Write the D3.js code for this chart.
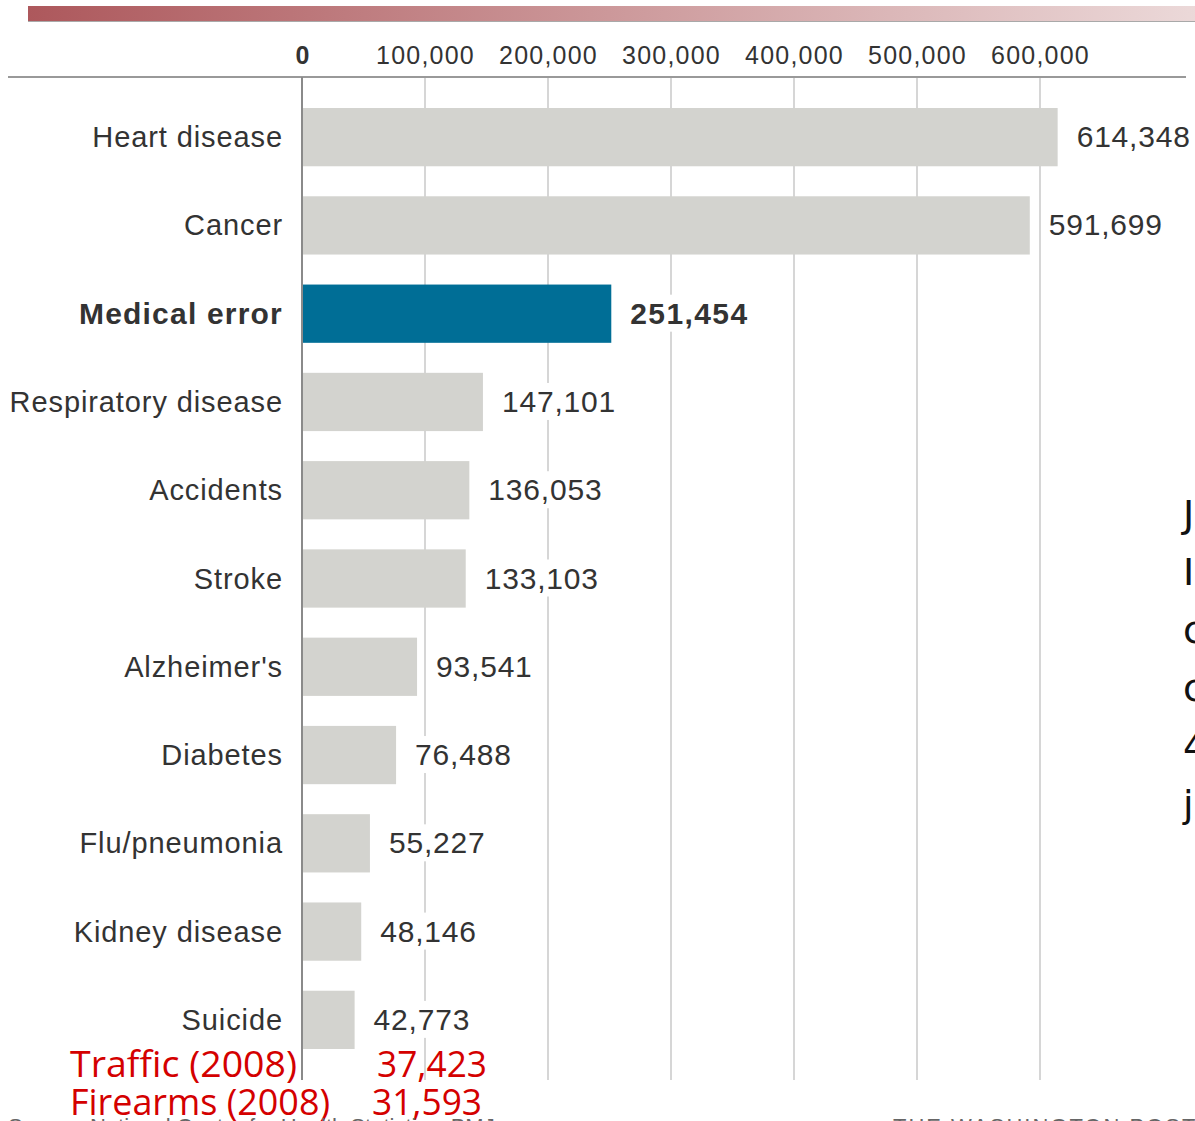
<!DOCTYPE html>
<html>
<head>
<meta charset="utf-8">
<script src="https://cdn.jsdelivr.net/npm/d3@7"></script>
<style>
  body { margin: 0; background: #fff; overflow: hidden; }
  svg { display: block; }
</style>
</head>
<body>
<div id="chart"></div>
<script>
// causes of death, US
var causes = ["Heart disease", "Cancer", "Medical error", "Respiratory disease", "Accidents",
              "Stroke", "Alzheimer's", "Diabetes", "Flu/pneumonia", "Kidney disease", "Suicide"];
var deaths = [614348, 591699, 251454, 147101, 136053, 133103, 93541, 76488, 55227, 48146, 42773];
var highlight = "Medical error";

// extra red rows added below the chart
var extraLabels = ["Traffic (2008)", "Firearms (2008)"];
var extraValues = [37423, 31593];

var tickValues = [0, 100000, 200000, 300000, 400000, 500000, 600000];

var width = 1195, height = 1121;
var font = "'Liberation Sans', Arial, sans-serif";

var svg = d3.select("#chart").append("svg")
    .attr("width", width)
    .attr("height", height);

// gradient strip at the very top
var defs = svg.append("defs");
var grad = defs.append("linearGradient").attr("id", "topgrad");
grad.append("stop").attr("offset", "0%").attr("stop-color", "#ad585c");
grad.append("stop").attr("offset", "100%").attr("stop-color", "#ecdada");
svg.append("rect").attr("x", 28).attr("y", 6).attr("width", 1180).attr("height", 15)
    .attr("fill", "url(#topgrad)");
svg.append("line").attr("x1", 28).attr("x2", 1195).attr("y1", 21.5).attr("y2", 21.5)
    .attr("stroke", "#a9a9a9").attr("stroke-width", 1);

var x = d3.scaleLinear().domain([0, 600000]).range([302, 1040]);
var y = d3.scaleBand().domain(causes).range([93, 1064]).paddingInner(0.34).paddingOuter(0.17);

var gridBottom = 1080;

// gridlines
svg.append("g").selectAll("line")
    .data(tickValues.slice(1))
    .enter().append("line")
    .attr("x1", function(d){ return x(d); })
    .attr("x2", function(d){ return x(d); })
    .attr("y1", 77).attr("y2", gridBottom)
    .attr("stroke", "#d6d6d6").attr("stroke-width", 2);

// top axis labels
var axis = svg.append("g")
    .attr("transform", "translate(0,77)")
    .call(d3.axisTop(x).tickValues(tickValues).tickSize(0).tickPadding(13)
        .tickFormat(d3.format(",")));
axis.select(".domain").remove();
axis.selectAll("text")
    .attr("font-family", font)
    .attr("font-size", 25)
    .attr("letter-spacing", function(d){ return d === 0 ? 0 : 1.2; })
    .attr("fill", "#333")
    .attr("font-weight", function(d){ return d === 0 ? "bold" : "normal"; });

svg.append("line").attr("x1", 8).attr("x2", 1186).attr("y1", 77).attr("y2", 77)
    .attr("stroke", "#999").attr("stroke-width", 2);

// bars
svg.append("g").selectAll("rect")
    .data(causes)
    .enter().append("rect")
    .attr("x", x(0))
    .attr("y", function(d){ return y(d); })
    .attr("width", function(d, i){ return x(deaths[i]) - x(0); })
    .attr("height", y.bandwidth())
    .attr("fill", function(d){ return d === highlight ? "#006e96" : "#d3d3cf"; });

// zero line
svg.append("line").attr("x1", 302).attr("x2", 302).attr("y1", 77).attr("y2", gridBottom)
    .attr("stroke", "#8a8a8a").attr("stroke-width", 2);

// category labels
svg.append("g").selectAll("text")
    .data(causes)
    .enter().append("text")
    .attr("x", 283)
    .attr("y", function(d){ return y(d) + y.bandwidth() / 2 + 10; })
    .attr("text-anchor", "end")
    .attr("font-family", font)
    .attr("font-size", function(d){ return d === highlight ? 30 : 29; })
    .attr("letter-spacing", function(d){ return d === highlight ? 1.2 : 0.9; })
    .attr("font-weight", function(d){ return d === highlight ? "bold" : "normal"; })
    .attr("fill", "#333")
    .text(function(d){ return d; });

// value labels with white boxes that break the gridlines
var vals = svg.append("g").selectAll("g")
    .data(causes)
    .enter().append("g");
vals.append("text")
    .attr("x", function(d, i){ return x(deaths[i]) + 19; })
    .attr("y", function(d){ return y(d) + y.bandwidth() / 2 + 10; })
    .attr("font-family", font)
    .attr("font-size", 30)
    .attr("letter-spacing", function(d){ return d === highlight ? 1.4 : 0.8; })
    .attr("font-weight", function(d){ return d === highlight ? "bold" : "normal"; })
    .attr("fill", "#333")
    .text(function(d, i){ return d3.format(",")(deaths[i]); });
vals.each(function(){
    var t = d3.select(this).select("text");
    var b = t.node().getBBox();
    d3.select(this).insert("rect", "text")
        .attr("x", b.x - 4).attr("y", b.y - 2)
        .attr("width", b.width + 8).attr("height", b.height + 4)
        .attr("fill", "#fff");
});

// red added rows
var redFont = "'Open Sans', 'Noto Sans', sans-serif";
svg.append("g").selectAll("text.lab")
    .data(extraLabels)
    .enter().append("text")
    .attr("x", 70)
    .attr("y", function(d, i){ return 1077 + i * 38; })
    .attr("font-family", redFont)
    .attr("font-size", 37)
    .attr("textLength", function(d, i){ return i === 0 ? 227 : 260; })
    .attr("lengthAdjust", "spacingAndGlyphs")
    .attr("fill", "#d40000")
    .text(function(d){ return d; });
svg.append("g").selectAll("text.val")
    .data(extraValues)
    .enter().append("text")
    .attr("x", function(d, i){ return i === 0 ? 487 : 482; })
    .attr("y", function(d, i){ return 1077 + i * 38; })
    .attr("text-anchor", "end")
    .attr("font-family", redFont)
    .attr("font-size", 37)
    .attr("textLength", 110)
    .attr("lengthAdjust", "spacingAndGlyphs")
    .attr("fill", "#d40000")
    .text(function(d){ return d3.format(",")(d); });

// source line, mostly cut off at the bottom
svg.append("text").attr("x", 8).attr("y", 1134)
    .attr("font-family", font).attr("font-size", 22)
    .attr("fill", "#666")
    .text("Source: National Center for Health Statistics, BMJ");
svg.append("text").attr("x", 893).attr("y", 1134)
    .attr("font-family", font).attr("font-size", 22)
    .attr("fill", "#666").attr("letter-spacing", 2)
    .text("THE WASHINGTON POST");

// slide text clipped at the right edge
var sideText = ["J", "I", "c", "c", "4", "j"];
svg.append("g").selectAll("text")
    .data(sideText)
    .enter().append("text")
    .attr("x", 1183)
    .attr("y", function(d, i){ return 527 + i * 58; })
    .attr("font-family", "'DejaVu Sans', sans-serif")
    .attr("font-size", 38)
    .attr("fill", "#111")
    .text(function(d){ return d; });
</script>
</body>
</html>
